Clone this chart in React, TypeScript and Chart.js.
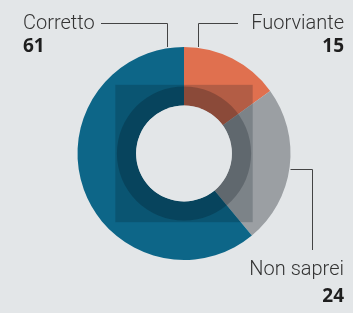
import React, { useEffect, useRef } from "react";
import { Chart, registerables } from "chart.js";

Chart.register(...registerables);

const categories = ["Fuorviante", "Non saprei", "Corretto"];
const values = [15, 24, 61];
const colors = ["#e0704f", "#9b9fa3", "#0d6688"];

const BG = "#e3e6e8";

const overlayPlugin = {
  id: "overlay",
  afterDatasetsDraw(chart: any) {
    const meta = chart.getDatasetMeta(0);
    const arc = meta.data[0];
    if (!arc) return;
    const { x, y, innerRadius, outerRadius } = arc as any;
    const ctx = chart.ctx;
    const half = outerRadius * 0.645;
    const ringR = outerRadius * 0.63;
    ctx.save();
    // translucent square
    ctx.fillStyle = "rgba(0,20,30,0.2)";
    ctx.fillRect(x - half, y - half, half * 2, half * 2);
    // darker ring
    ctx.beginPath();
    ctx.arc(x, y, ringR, 0, Math.PI * 2);
    ctx.arc(x, y, innerRadius, 0, Math.PI * 2, true);
    ctx.fillStyle = "rgba(0,10,20,0.22)";
    ctx.fill();
    // hole
    ctx.beginPath();
    ctx.arc(x, y, innerRadius, 0, Math.PI * 2);
    ctx.fillStyle = BG;
    ctx.fill();

    // leader lines
    const els = meta.data;
    ctx.strokeStyle = "#444";
    ctx.lineWidth = 1;
    const top = y - outerRadius;
    // Corretto
    ctx.beginPath();
    ctx.moveTo(101, 23.5);
    ctx.lineTo(167.5, 23.5);
    ctx.lineTo(167.5, top);
    ctx.stroke();
    // Fuorviante
    ctx.beginPath();
    ctx.moveTo(238, 23.5);
    ctx.lineTo(198.5, 23.5);
    ctx.lineTo(198.5, top);
    ctx.stroke();
    // Non saprei
    ctx.beginPath();
    ctx.moveTo(x + outerRadius, 169.5);
    ctx.lineTo(312.5, 169.5);
    ctx.lineTo(312.5, 250);
    ctx.stroke();

    // labels
    ctx.textBaseline = "alphabetic";
    ctx.fillStyle = "#333";
    ctx.font = "300 20px Roboto";
    ctx.textAlign = "left";
    ctx.fillText(categories[2], 23, 29);
    ctx.textAlign = "right";
    ctx.fillText(categories[0], 344, 29);
    ctx.fillText(categories[1], 344, 275);
    ctx.fillStyle = "#1e1e1e";
    ctx.font = "bold 19px 'Open Sans'";
    ctx.textAlign = "left";
    ctx.fillText(String(values[2]), 23, 52);
    ctx.textAlign = "right";
    ctx.fillText(String(values[0]), 344, 52);
    ctx.fillText(String(values[1]), 344, 302);
    ctx.restore();
  },
};

export default function App() {
  const ref = useRef<HTMLCanvasElement>(null);
  useEffect(() => {
    if (!ref.current) return;
    const chart = new Chart(ref.current, {
      type: "doughnut",
      data: {
        labels: categories,
        datasets: [
          {
            data: values,
            backgroundColor: colors,
            borderWidth: 0,
          },
        ],
      },
      options: {
        animation: false,
        responsive: false,
        cutout: "45%",
        layout: { padding: { top: 47, bottom: 53, left: 77, right: 62 } },
        plugins: { legend: { display: false }, tooltip: { enabled: false } },
      },
      plugins: [overlayPlugin],
    });
    return () => chart.destroy();
  }, []);
  return (
    <div style={{ position: "fixed", left: 0, top: 0, width: 353, height: 313, background: BG }}>
      <canvas ref={ref} width={353} height={313} style={{ display: "block" }} />
    </div>
  );
}
